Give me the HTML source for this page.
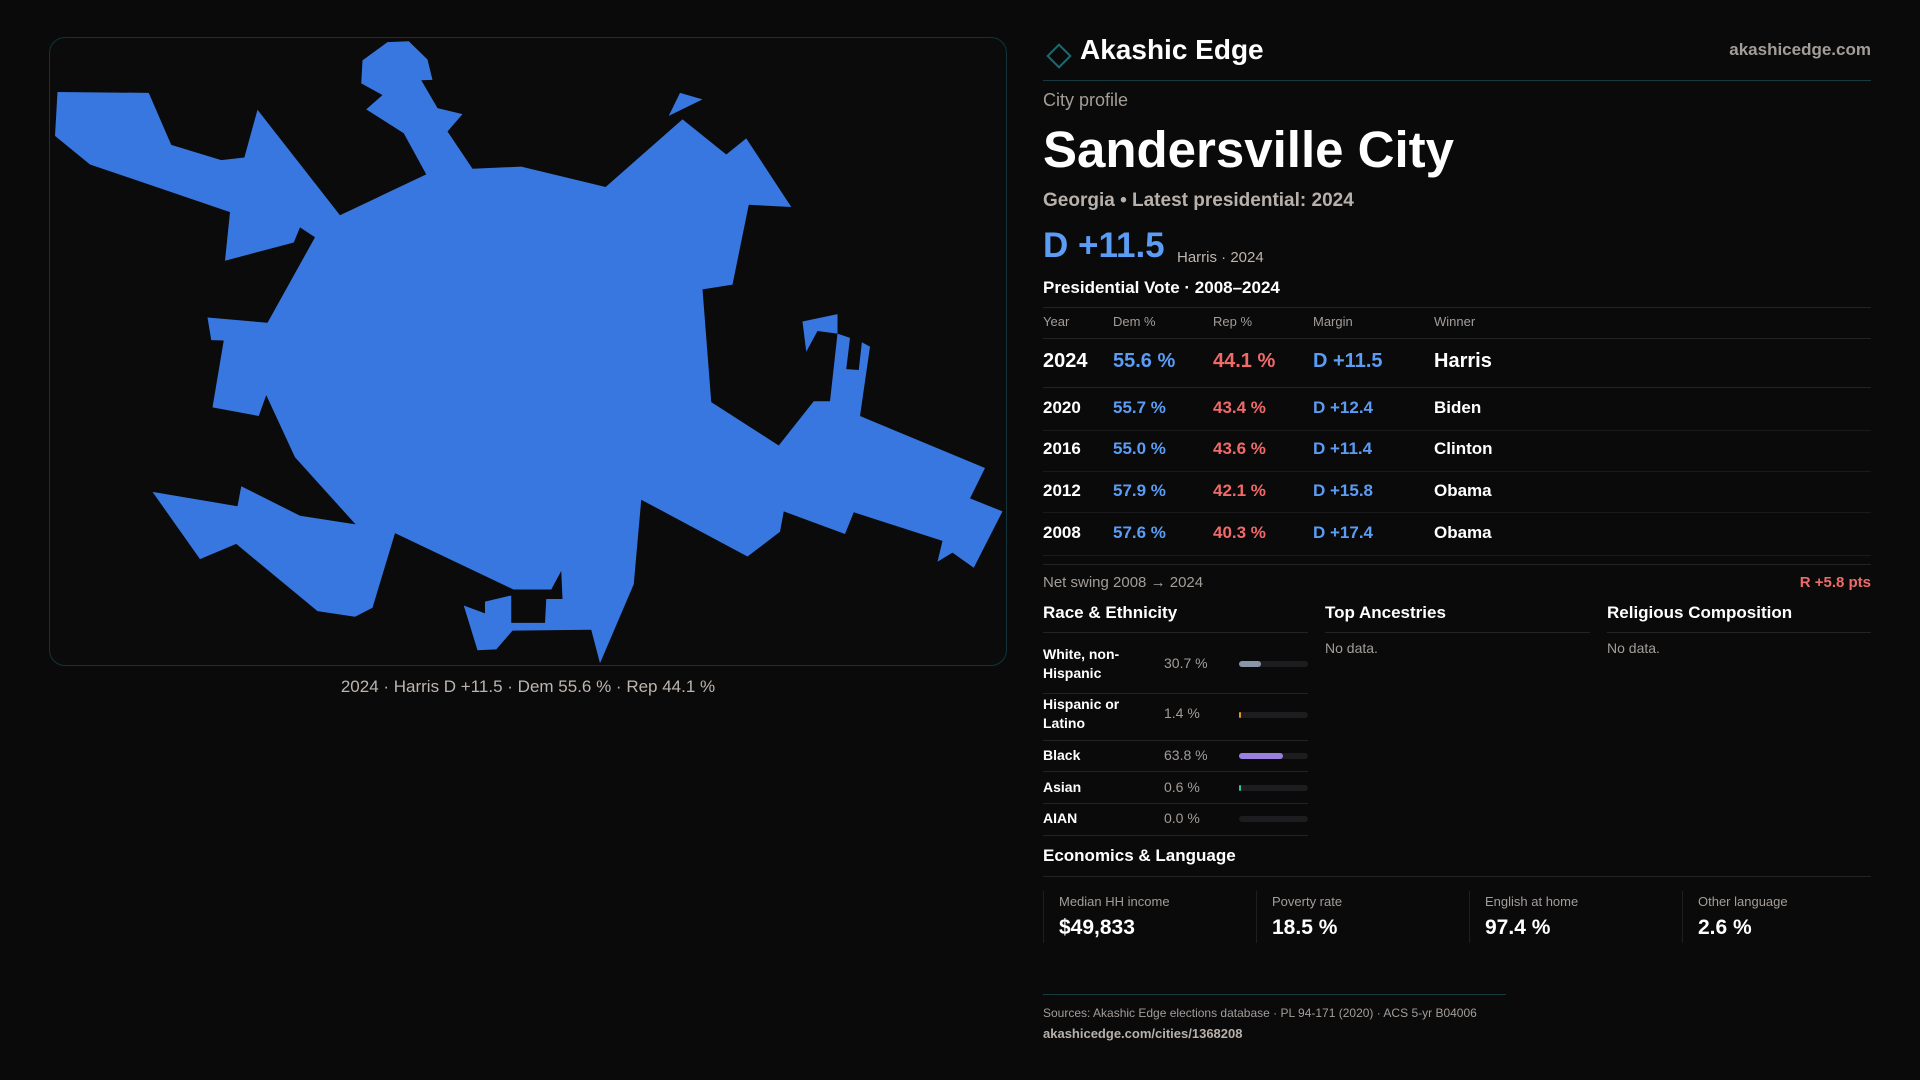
<!DOCTYPE html>
<html><head><meta charset="utf-8"><style>
*{margin:0;padding:0;box-sizing:border-box}
body{width:1920px;height:1080px;background:#0a0a0b;overflow:hidden;position:relative;font-family:"Liberation Sans",sans-serif;color:#fff}
.a{position:absolute;white-space:nowrap}
.g{color:#a39d98}
.b{color:#5b9cf5}
.r{color:#f06a6a}
.ln{position:absolute;height:1px;background:#232326}
.panel{position:absolute;left:49px;top:37px;width:958px;height:629px;border:1px solid #12343a;border-radius:16px;background:#0b0b0c}
.bar{position:absolute;left:1239px;width:69px;height:6px;border-radius:3px;background:#1d1d20}
.bar i{display:block;height:6px;border-radius:3px}
.st{position:absolute;top:891px;height:52px;border-left:1px solid #1f1f22}
</style></head><body>
<div class="panel"></div>
<svg class="a" style="left:0;top:0" width="1920" height="1080">
<g transform="translate(40,30) scale(0.625,0.4337)" fill="#3877e0">
<polygon points="28,143 174,145 210,265 290,300 327,294 348,184 480,427 618,333 582,238 522,183 548,150 514,123 516,70 556,28 590,26 620,68 628,115 610,116 636,180 676,194 652,234 692,320 770,315 905,362 1028,206 1098,287 1130,250 1202,408 1134,403 1108,587 1060,598 1074,858 1182,958 1238,856 1264,856 1276,700 1296,710 1290,782 1310,784 1315,720 1328,730 1312,890 1512,1010 1488,1080 1540,1110 1494,1240 1460,1205 1436,1226 1444,1178 1302,1112 1288,1162 1190,1110 1184,1157 1132,1214 962,1083 950,1278 896,1460 882,1383 756,1385 730,1428 700,1430 678,1327 712,1345 712,1318 750,1305 772,1300 568,1160 532,1332 504,1353 444,1340 314,1185 256,1220 180,1065 316,1098 322,1052 416,1120 505,1140 408,985 362,842 350,890 276,870 294,716 274,715 268,663 364,675 440,478 416,455 406,490 296,532 304,420 80,310 24,244"/>
<polygon points="1220,672 1276,655 1276,700 1244,694 1226,742"/>
<polygon points="1006,198 1024,145 1060,160"/>
<polygon fill="#0b0b0c" points="754,1290 818,1290 834,1247 836,1312 810,1312 808,1367 754,1367"/>
</g>
</svg>
<div class="a g" style="left:0;width:1056px;text-align:center;top:677px;font-size:17px;color:#bdb5ae">2024 · Harris D +11.5 · Dem 55.6 % · Rep 44.1 %</div>

<svg class="a" style="left:1043px;top:40px" width="30" height="30"><rect x="8" y="8" width="16" height="16" transform="rotate(45 16 16)" fill="none" stroke="#1b6a70" stroke-width="2"/></svg>
<div class="a" style="left:1080px;top:34px;font-size:28px;font-weight:bold">Akashic Edge</div>
<div class="a g" style="right:49px;top:40px;font-size:17px;font-weight:bold">akashicedge.com</div>
<div class="ln" style="left:1043px;width:828px;top:80px;background:#173a3e"></div>
<div class="a g" style="left:1043px;top:90px;font-size:18px">City profile</div>
<div class="a" style="left:1043px;top:120px;font-size:51px;font-weight:bold">Sandersville City</div>
<div class="a g" style="left:1043px;top:190px;font-size:19px;font-weight:bold;color:#b8b0aa">Georgia • Latest presidential: 2024</div>
<div class="a b" style="left:1043px;top:226px;font-size:35px;font-weight:bold">D +11.5</div>
<div class="a g" style="left:1177px;top:249px;font-size:15px;color:#bdb5ae">Harris · 2024</div>
<div class="a" style="left:1043px;top:278px;font-size:17px;font-weight:bold">Presidential Vote · 2008–2024</div>
<div class="ln" style="left:1043px;width:828px;top:307px"></div>
<div class="a g" style="left:1043px;top:314px;font-size:13px">Year</div>
<div class="a g" style="left:1113px;top:314px;font-size:13px">Dem %</div>
<div class="a g" style="left:1213px;top:314px;font-size:13px">Rep %</div>
<div class="a g" style="left:1313px;top:314px;font-size:13px">Margin</div>
<div class="a g" style="left:1434px;top:314px;font-size:13px">Winner</div>
<div class="ln" style="left:1043px;width:828px;top:338px"></div>
<div style="font-size:20px;font-weight:bold">
<div class="a" style="left:1043px;top:350px">2024</div><div class="a b" style="left:1113px;top:350px">55.6 %</div><div class="a r" style="left:1213px;top:350px">44.1 %</div><div class="a b" style="left:1313px;top:350px">D +11.5</div><div class="a" style="left:1434px;top:350px">Harris</div>
</div>
<div class="ln" style="left:1043px;width:828px;top:387px"></div>
<div style="font-size:17px;font-weight:bold">
<div class="a" style="left:1043px;top:398px">2020</div><div class="a b" style="left:1113px;top:398px">55.7 %</div><div class="a r" style="left:1213px;top:398px">43.4 %</div><div class="a b" style="left:1313px;top:398px">D +12.4</div><div class="a" style="left:1434px;top:398px">Biden</div>
<div class="a" style="left:1043px;top:439px">2016</div><div class="a b" style="left:1113px;top:439px">55.0 %</div><div class="a r" style="left:1213px;top:439px">43.6 %</div><div class="a b" style="left:1313px;top:439px">D +11.4</div><div class="a" style="left:1434px;top:439px">Clinton</div>
<div class="a" style="left:1043px;top:481px">2012</div><div class="a b" style="left:1113px;top:481px">57.9 %</div><div class="a r" style="left:1213px;top:481px">42.1 %</div><div class="a b" style="left:1313px;top:481px">D +15.8</div><div class="a" style="left:1434px;top:481px">Obama</div>
<div class="a" style="left:1043px;top:523px">2008</div><div class="a b" style="left:1113px;top:523px">57.6 %</div><div class="a r" style="left:1213px;top:523px">40.3 %</div><div class="a b" style="left:1313px;top:523px">D +17.4</div><div class="a" style="left:1434px;top:523px">Obama</div>
</div>
<div class="ln" style="left:1043px;width:828px;top:430px;background:#1a1a1d"></div>
<div class="ln" style="left:1043px;width:828px;top:471px;background:#1a1a1d"></div>
<div class="ln" style="left:1043px;width:828px;top:512px;background:#1a1a1d"></div>
<div class="ln" style="left:1043px;width:828px;top:555px;background:#1a1a1d"></div>
<div class="ln" style="left:1043px;width:828px;top:564px"></div>
<div class="a g" style="left:1043px;top:574px;font-size:15px">Net swing 2008 → 2024</div>
<div class="a r" style="right:49px;top:574px;font-size:15px;font-weight:bold">R +5.8 pts</div>

<div class="a" style="left:1043px;top:603px;font-size:17px;font-weight:bold">Race &amp; Ethnicity</div>
<div class="a" style="left:1325px;top:603px;font-size:17px;font-weight:bold">Top Ancestries</div>
<div class="a" style="left:1607px;top:603px;font-size:17px;font-weight:bold">Religious Composition</div>
<div class="ln" style="left:1043px;width:265px;top:632px"></div>
<div class="ln" style="left:1325px;width:265px;top:632px"></div>
<div class="ln" style="left:1607px;width:264px;top:632px"></div>
<div class="a g" style="left:1325px;top:640px;font-size:14px">No data.</div>
<div class="a g" style="left:1607px;top:640px;font-size:14px">No data.</div>

<div style="font-size:14px">
<div class="a" style="left:1043px;top:645px;line-height:19px;font-weight:bold">White, non-<br>Hispanic</div><div class="a g" style="left:1164px;top:655px">30.7 %</div>
<div class="bar" style="top:661px"><i style="width:22px;background:#8a95a8"></i></div>
<div class="a" style="left:1043px;top:695px;line-height:19px;font-weight:bold">Hispanic or<br>Latino</div><div class="a g" style="left:1164px;top:705px">1.4 %</div>
<div class="bar" style="top:712px"><i style="width:2px;background:#e0962a"></i></div>
<div class="a" style="left:1043px;top:747px;font-weight:bold">Black</div><div class="a g" style="left:1164px;top:747px">63.8 %</div>
<div class="bar" style="top:753px"><i style="width:44px;background:#9b7fe0"></i></div>
<div class="a" style="left:1043px;top:779px;font-weight:bold">Asian</div><div class="a g" style="left:1164px;top:779px">0.6 %</div>
<div class="bar" style="top:785px"><i style="width:2px;background:#2ec4a0"></i></div>
<div class="a" style="left:1043px;top:810px;font-weight:bold">AIAN</div><div class="a g" style="left:1164px;top:810px">0.0 %</div>
<div class="bar" style="top:816px"></div>
</div>
<div class="ln" style="left:1043px;width:265px;top:693px"></div>
<div class="ln" style="left:1043px;width:265px;top:740px"></div>
<div class="ln" style="left:1043px;width:265px;top:771px"></div>
<div class="ln" style="left:1043px;width:265px;top:803px"></div>
<div class="ln" style="left:1043px;width:265px;top:835px"></div>

<div class="a" style="left:1043px;top:846px;font-size:17px;font-weight:bold">Economics &amp; Language</div>
<div class="ln" style="left:1043px;width:828px;top:876px"></div>
<div class="st" style="left:1043px"></div><div class="st" style="left:1256px"></div><div class="st" style="left:1469px"></div><div class="st" style="left:1682px"></div>
<div class="a g" style="left:1059px;top:894px;font-size:13px">Median HH income</div>
<div class="a g" style="left:1272px;top:894px;font-size:13px">Poverty rate</div>
<div class="a g" style="left:1485px;top:894px;font-size:13px">English at home</div>
<div class="a g" style="left:1698px;top:894px;font-size:13px">Other language</div>
<div class="a" style="left:1059px;top:916px;font-size:21px;font-weight:bold">$49,833</div>
<div class="a" style="left:1272px;top:916px;font-size:21px;font-weight:bold">18.5 %</div>
<div class="a" style="left:1485px;top:916px;font-size:21px;font-weight:bold">97.4 %</div>
<div class="a" style="left:1698px;top:916px;font-size:21px;font-weight:bold">2.6 %</div>
<div class="ln" style="left:1043px;width:463px;top:994px;background:#173a3e"></div>
<div class="a g" style="left:1043px;top:1006px;font-size:12px">Sources: Akashic Edge elections database · PL 94-171 (2020) · ACS 5-yr B04006</div>
<div class="a g" style="left:1043px;top:1026px;font-size:13px;font-weight:bold;color:#b8b0aa">akashicedge.com/cities/1368208</div>
</body></html>
